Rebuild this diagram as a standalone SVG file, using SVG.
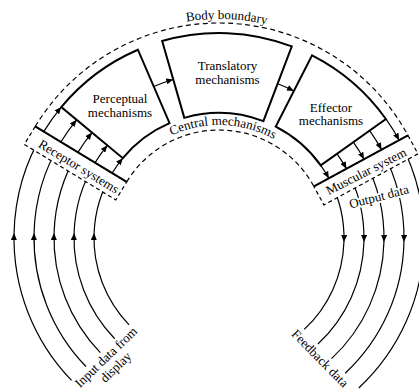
<svg xmlns="http://www.w3.org/2000/svg" width="419" height="392" viewBox="0 0 419 392">
<defs>
<marker id="ah" viewBox="0 0 7 6" refX="7" refY="3" markerWidth="7" markerHeight="6" markerUnits="userSpaceOnUse" orient="auto">
<path d="M0,0 L7,3 L0,6 Z" fill="#000"/>
</marker>
<path id="bbPath" d="M78.23,70.24 A219,219 0 0 1 359.77,70.24"/>
<path id="cmPath" d="M121.14,181.5 A113,113 0 0 1 316.86,181.5"/>
</defs>
<style>
text{font-family:"Liberation Serif","Times New Roman",serif;font-size:13px;fill:#000}
.box{fill:none;stroke:#000;stroke-width:2;stroke-linejoin:miter}
.dash{fill:none;stroke:#000;stroke-width:1.2;stroke-dasharray:5 3.5}
.dbox{fill:#fff;stroke:#000;stroke-width:1.2;stroke-dasharray:4 3}
.flow{fill:none;stroke:#000;stroke-width:1.2}
.arr{fill:none;stroke:#000;stroke-width:1.2;marker-end:url(#ah)}
.mid{fill:none;stroke:#000;stroke-width:1.2;marker-mid:url(#ah)}
.solid{stroke:#000;stroke-width:2}
.halo{paint-order:stroke;stroke:#fff;stroke-width:4;stroke-linejoin:round}
</style>
<rect width="419" height="392" fill="#fff"/>

<g id="connectors">
<!-- input data arcs -->
<path class="mid" d="M129.09,324.84 A125,125 0 0 1 94.1,233 A125,125 0 0 1 112.14,173.15"/>
<path class="mid" d="M114.70,338.73 A145,145 0 0 1 74.09,233 A145,145 0 0 1 95.04,162.77"/>
<path class="mid" d="M100.32,352.63 A165,165 0 0 1 54.08,233 A165,165 0 0 1 77.94,152.40"/>
<path class="mid" d="M85.93,366.52 A185,185 0 0 1 34.07,233 A185,185 0 0 1 60.84,142.02"/>
<path class="mid" d="M71.54,380.41 A205,205 0 0 1 14.06,233 A205,205 0 0 1 43.75,131.65"/>
<!-- output / feedback arcs -->
<path class="mid" d="M328.85,178.35 A125,125 0 0 1 343.94,242 A125,125 0 0 1 304.25,329.43"/>
<path class="mid" d="M346.43,168.81 A145,145 0 0 1 363.94,242 A145,145 0 0 1 317.89,344.05"/>
<path class="mid" d="M364.00,159.26 A165,165 0 0 1 383.95,242 A165,165 0 0 1 331.53,358.68"/>
<path class="mid" d="M381.58,149.72 A185,185 0 0 1 403.96,242 A185,185 0 0 1 345.17,373.31"/>
<path class="mid" d="M399.15,140.17 A205,205 0 0 1 423.96,242 A205,205 0 0 1 358.81,387.94"/>
<!-- receptor arrows -->
<path class="arr" d="M112.14,173.15 A125,125 0 0 1 122.83,158.15"/>
<path class="arr" d="M95.04,162.77 A145,145 0 0 1 107.44,145.37"/>
<path class="arr" d="M77.94,152.40 A165,165 0 0 1 92.05,132.60"/>
<path class="arr" d="M60.84,142.02 A185,185 0 0 1 76.66,119.82"/>
<path class="arr" d="M43.75,131.65 A205,205 0 0 1 61.27,107.05"/>
<!-- muscular arrows -->
<path class="arr" d="M320.76,165.41 A125,125 0 0 1 328.85,178.35"/>
<path class="arr" d="M337.04,153.80 A145,145 0 0 1 346.43,168.81"/>
<path class="arr" d="M353.33,142.18 A165,165 0 0 1 364.00,159.26"/>
<path class="arr" d="M369.61,130.57 A185,185 0 0 1 381.58,149.72"/>
<path class="arr" d="M385.89,118.96 A205,205 0 0 1 399.15,140.17"/>
<!-- central arrows -->
<path class="arr" d="M153.74,86.46 A165,165 0 0 1 173.25,79.47"/>
<path class="arr" d="M277.59,83.76 A165,165 0 0 1 293.91,90.98"/>
</g>

<g id="body-boundary">
<path class="dash" d="M35.20,126.46 A215,215 0 0 1 407.94,135.40"/>
<text><textPath href="#bbPath" startOffset="160.5" text-anchor="middle">Body boundary</textPath></text>
</g>

<g id="central-mechanisms">
<path class="dash" d="M126.67,181.97 A108,108 0 0 1 313.91,186.46"/>
<text><textPath href="#cmPath" startOffset="122.3" text-anchor="middle">Central mechanisms</textPath></text>
</g>

<g id="receptor-systems">
<polygon class="dbox" points="35.20,126.46 24.31,144.41 115.78,199.92 126.67,181.97"/>
<line class="solid" x1="35.20" y1="126.46" x2="126.67" y2="181.97"/>
<text transform="translate(76.5,170.2) rotate(31.25)" text-anchor="middle">Receptor systems</text>
</g>

<g id="muscular-system">
<polygon class="dbox" points="407.94,135.40 417.96,153.85 323.93,204.91 313.91,186.46"/>
<line class="solid" x1="407.94" y1="135.40" x2="313.91" y2="186.46"/>
<text transform="translate(368.1,175.2) rotate(-27)" text-anchor="middle">Muscular system</text>
</g>

<g id="perceptual">
<path class="box" d="M171.15,38.66 A205,205 0 0 1 266.85,38.66 L248.18,116.45 A125,125 0 0 0 189.82,116.45 Z" transform="rotate(-36.8 219 238)"/>
<text text-anchor="middle"><tspan x="120" y="103">Perceptual</tspan><tspan x="120" y="117">mechanisms</tspan></text>
</g>

<g id="translatory">
<path class="box" d="M154.12,43.54 A205,205 0 0 1 283.88,43.54 L258.56,119.42 A125,125 0 0 0 179.44,119.42 Z" transform="rotate(2.35 219 238)"/>
<text text-anchor="middle"><tspan x="227.5" y="70">Translatory</tspan><tspan x="227.5" y="83.5">mechanisms</tspan></text>
</g>

<g id="effector">
<path class="box" d="M170.27,38.88 A205,205 0 0 1 267.73,38.88 L248.71,116.59 A125,125 0 0 0 189.29,116.59 Z" transform="rotate(40.75 219 238)"/>
<text text-anchor="middle"><tspan x="331" y="111.5">Effector</tspan><tspan x="331" y="125">mechanisms</tspan></text>
</g>

<g id="output-data">
<text class="halo" transform="translate(380,200.8) rotate(-14.5)" text-anchor="middle">Output data</text>
</g>

<g id="input-data">
<text transform="translate(109,360.2) rotate(-44)" text-anchor="middle"><tspan x="0" y="0">Input data from</tspan><tspan x="0" y="14">display</tspan></text>
</g>

<g id="feedback-data">
<text transform="translate(317,361.5) rotate(45.5)" text-anchor="middle">Feedback data</text>
</g>
</svg>
